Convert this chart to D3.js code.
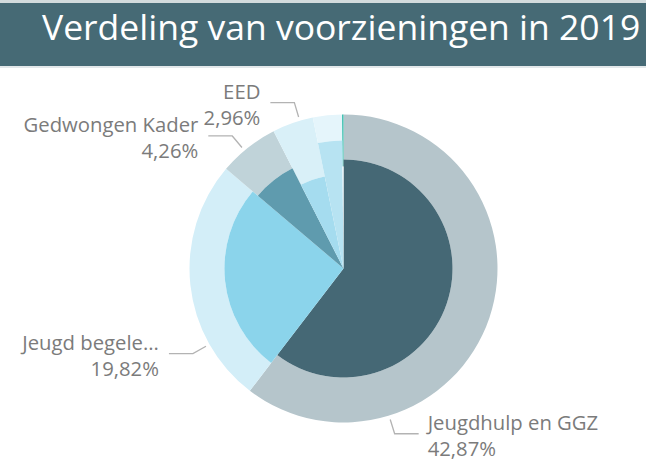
<!DOCTYPE html>
<meta charset="utf-8">
<head>
  <script src="https://d3js.org/d3.v7.min.js"></script>
  <style>
    body { margin: 0; background: #fff; }
    text { font-family: "Open Sans", sans-serif; }
  </style>
</head>
<body>
<script>
  // gegevens
  const categorieen = ["Jeugdhulp en GGZ", "Jeugd begele...", "Gedwongen Kader", "EED", "Overig", "Onbekend"];
  const aandeel = [60.4, 25.8, 6.3, 4.3, 3.05, 0.15];          // hoek van elk segment
  const binnenwaarde = [0.708, 0.773, 0.73, 0.61, 0.831, 0.662]; // straal van het binnenste deel
  const labelPct = ["42,87%", "19,82%", "4,26%", "2,96%", null, null];

  const kleurBinnen = ["#456875", "#8bd4eb", "#5f9bae", "#a5dcef", "#b7e3f2", "#f3fafd"];
  const kleurBuiten = ["#b5c5cb", "#d3eef8", "#c0d3d9", "#d9f0f8", "#e5f5fb", "#38bfae"];

  // hoek (graden) waar de verbindingslijn van het label vertrekt
  const labelHoek = [162.8, 240.5, 320, 343.5, null, null];

  const width = 646, height = 473;
  const cx = 343.5, cy = 268.5, R = 154;

  const svg = d3.select("body").append("svg")
      .attr("width", width)
      .attr("height", height);

  // titelbalk
  svg.append("rect").attr("x", 0).attr("y", 0).attr("width", width).attr("height", 3).attr("fill", "#d3dbdd");
  svg.append("rect").attr("x", 0).attr("y", 3).attr("width", width).attr("height", 63).attr("fill", "#466a75");
  svg.append("rect").attr("x", 0).attr("y", 66).attr("width", width).attr("height", 2).attr("fill", "#e3e8ea");
  svg.append("text")
      .attr("x", 42).attr("y", 40)
      .attr("fill", "#fff")
      .style("font-size", "35.5px")
      .text("Verdeling van voorzieningen in 2019");

  const data = categorieen.map((c, i) => ({
    naam: c, aandeel: aandeel[i], binnen: binnenwaarde[i], pct: labelPct[i],
    hoek: labelHoek[i], i: i
  }));

  const r = d3.scaleLinear().domain([0, 1]).range([0, R]);
  const pie = d3.pie().sort(null).value(d => d.aandeel);
  const arcs = pie(data);

  const g = svg.append("g").attr("transform", `translate(${cx},${cy})`);

  const arcBinnen = d3.arc().innerRadius(0).outerRadius(d => r(d.data.binnen));
  const arcBuiten = d3.arc().innerRadius(d => r(d.data.binnen)).outerRadius(R);

  g.selectAll("path.buiten")
    .data(arcs)
    .join("path")
      .attr("class", "buiten")
      .attr("d", arcBuiten)
      .attr("fill", d => kleurBuiten[d.data.i]);

  g.selectAll("path.binnen")
    .data(arcs)
    .join("path")
      .attr("class", "binnen")
      .attr("d", arcBinnen)
      .attr("fill", d => kleurBinnen[d.data.i]);

  // labels met verbindingslijnen
  const labels = data.filter(d => d.pct);
  const lg = g.selectAll("g.label")
    .data(labels)
    .join("g")
      .attr("class", "label");

  lg.each(function (d) {
    const a = d.hoek * Math.PI / 180;
    const p0 = d3.pointRadial(a, R + 4);
    const p1 = d3.pointRadial(a, R + 19);
    const links = p1[0] < 0;
    const p2 = [p1[0] + (links ? -24 : 24), p1[1]];
    const sel = d3.select(this);
    sel.append("polyline")
      .attr("points", [p0, p1, p2].map(p => p.join(",")).join(" "))
      .attr("fill", "none")
      .attr("stroke", "#b3b3b3")
      .attr("stroke-width", 1.3);
    const tx = p2[0] + (links ? -10 : 9);
    const t = sel.append("text")
      .attr("text-anchor", links ? "end" : "start")
      .attr("fill", "#7b7b7b")
      .style("font-size", "20.3px");
    t.append("tspan").attr("x", tx).attr("y", p1[1] - 3.5).text(d.naam);
    t.append("tspan").attr("x", tx).attr("y", p1[1] + 22.5).text(d.pct);
  });
</script>
</body>
</html>
